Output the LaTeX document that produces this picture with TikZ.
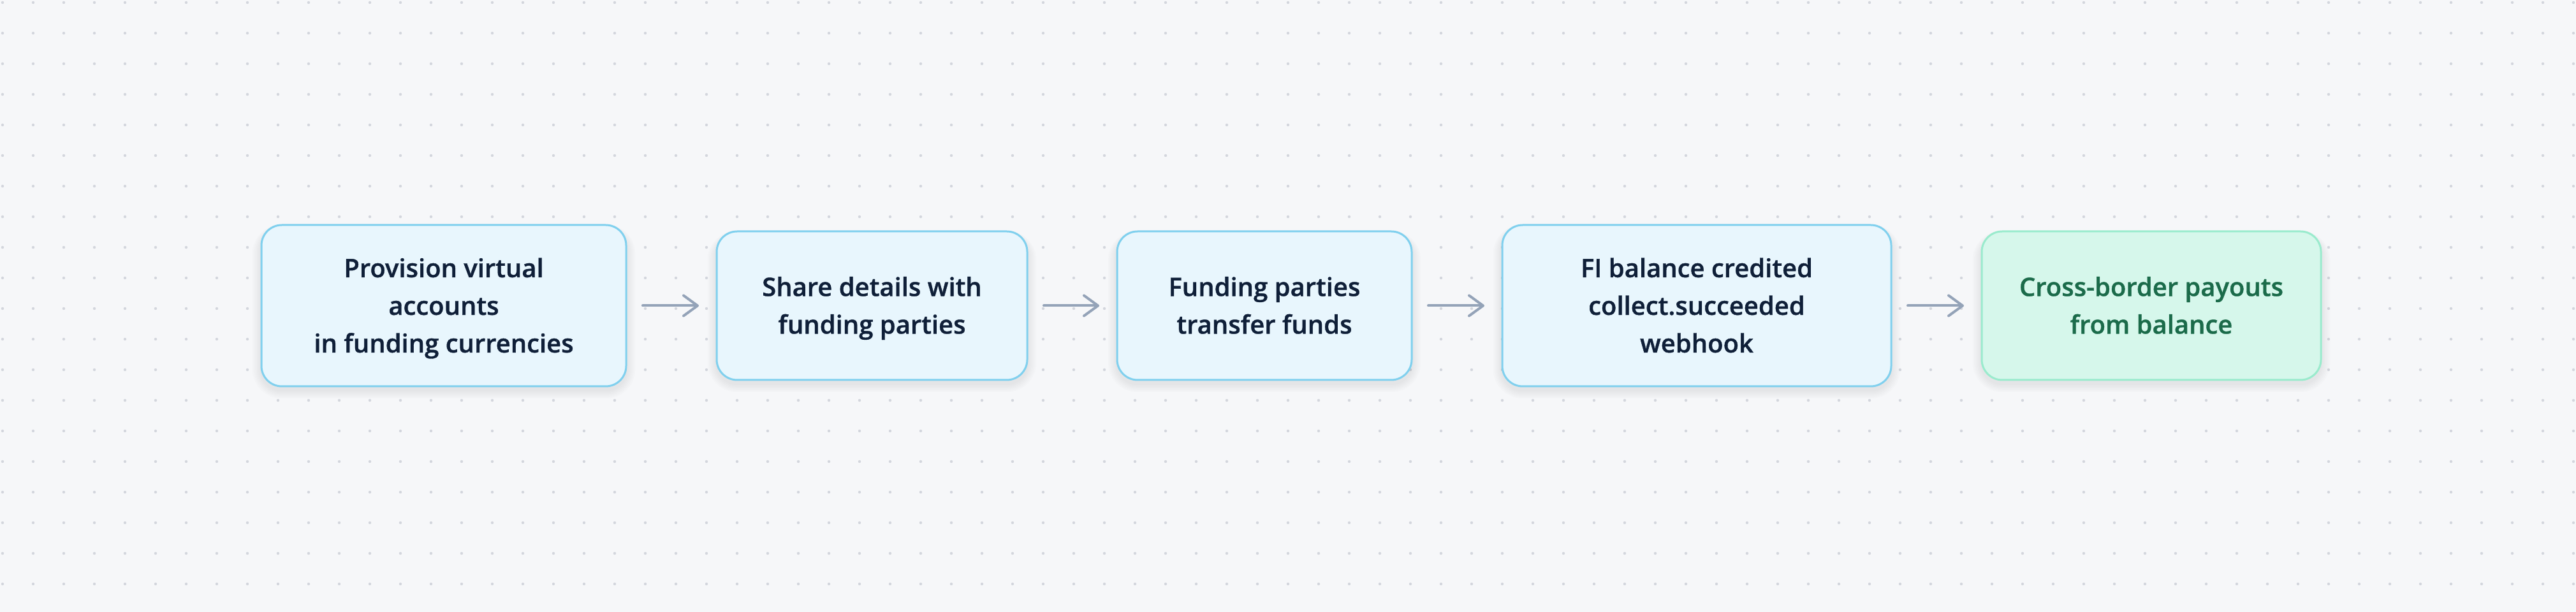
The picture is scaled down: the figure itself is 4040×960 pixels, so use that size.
\documentclass[tikz,border=0pt]{standalone}
\usepackage{fontspec}
\setmainfont{Open Sans}[BoldFont={Open Sans Semibold},BoldFeatures={FakeBold=0.9}]
\usetikzlibrary{arrows.meta}
\definecolor{bgc}{HTML}{F6F7F9}
\definecolor{dotc}{HTML}{D3D6DD}
\definecolor{boxfill}{HTML}{E8F6FD}
\definecolor{boxline}{HTML}{80D0EE}
\definecolor{txtc}{HTML}{0F1F38}
\definecolor{gfill}{HTML}{D6F7EB}
\definecolor{gline}{HTML}{9AEBCD}
\definecolor{gtxt}{HTML}{1B6B4A}
\definecolor{arrc}{HTML}{94A3B8}
\newcommand{\mytopstrut}{\rule{0pt}{10pt}}
\newcommand{\mybotstrut}{\rule[-2.8pt]{0pt}{2.8pt}}
\pgfdeclarelayer{bg}
\pgfdeclarelayer{shadow}
\pgfsetlayers{bg,shadow,main}
\tikzset{
  stepbox/.style={draw=boxline, fill=boxfill, line width=0.75pt, rounded corners=8pt,
    outer sep=0pt, inner sep=0pt, align=center, text=txtc,
    font=\fontsize{10}{14.75}\selectfont\bfseries},
  goalbox/.style={stepbox, draw=gline, fill=gfill, text=gtxt},
  flow/.style={draw=arrc, line width=1pt, line cap=round,
    -{Straight Barb[length=5.5pt,width=8pt,line cap=round,line join=round]},
    shorten <=6.5pt, shorten >=7pt}
}
\newcommand{\boxshadow}[1]{%
  \foreach \i in {1,...,6}{%
    \fill[black,opacity=0.010,rounded corners=8pt+\i*0.6pt]
      ([xshift=-\i*0.6pt,yshift=-1.5pt-\i*0.55pt]#1.south west) rectangle
      ([xshift=\i*0.6pt,yshift=-1.5pt+\i*0.3pt]#1.north east);
  }%
}
\begin{document}
\begin{tikzpicture}[x=0.25pt,y=-0.25pt]
\begin{pgfonlayer}{bg}
  \fill[bgc] (0,0) rectangle (4040,960);
  \foreach \i in {0,...,84}{
    \foreach \j in {0,...,19}{
      \fill[dotc] (4+48*\i,4+48*\j) circle[radius=0.55pt];
    }
  }
\end{pgfonlayer}
\useasboundingbox (0,0) rectangle (4040,960);

\node[stepbox, minimum width=143pt, minimum height=63.25pt] (b1) at (696,479.5)
  {\mytopstrut Provision virtual\\accounts\\in funding currencies\mybotstrut};
\node[stepbox, minimum width=121.75pt, minimum height=58.25pt] (b2) at (1367.5,479.5)
  {\mytopstrut Share details with\\funding parties\mybotstrut};
\node[stepbox, minimum width=115.5pt, minimum height=58.25pt] (b3) at (1983,479.5)
  {\mytopstrut Funding parties\\transfer funds\mybotstrut};
\node[stepbox, minimum width=152.5pt, minimum height=63.25pt] (b4) at (2661,479.5)
  {\mytopstrut FI balance credited\\collect.succeeded\\webhook\mybotstrut};
\node[goalbox, minimum width=133pt, minimum height=58.25pt] (b5) at (3374,479.5)
  {\mytopstrut Cross-border payouts\\from balance\mybotstrut};

\begin{pgfonlayer}{shadow}
  \boxshadow{b1}\boxshadow{b2}\boxshadow{b3}\boxshadow{b4}\boxshadow{b5}
\end{pgfonlayer}

\draw[flow] (b1.east) -- (b2.west);
\draw[flow] (b2.east) -- (b3.west);
\draw[flow] (b3.east) -- (b4.west);
\draw[flow] (b4.east) -- (b5.west);
\end{tikzpicture}
\end{document}
